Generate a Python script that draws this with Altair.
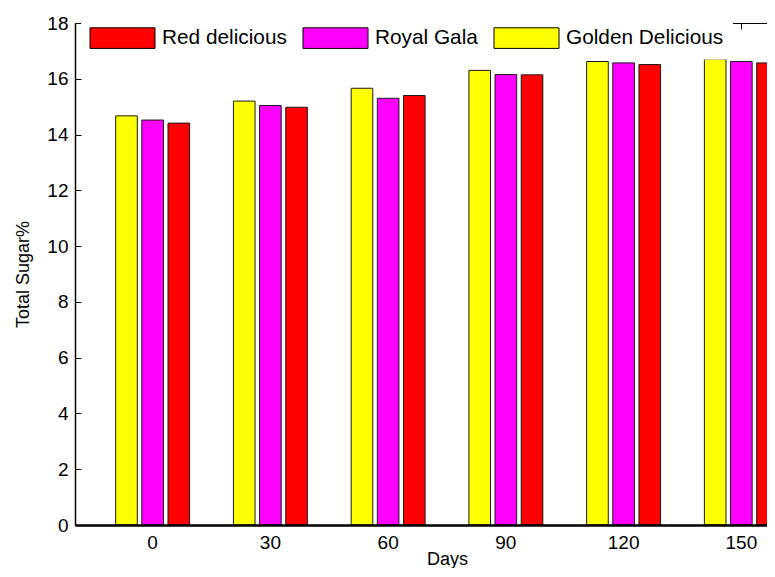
import altair as alt
import pandas as pd

days = ["0", "30", "60", "90", "120", "150"]
varieties = ["Red delicious", "Royal Gala", "Golden Delicious"]
bar_order = ["Golden Delicious", "Royal Gala", "Red delicious"]
golden = [14.67, 15.20, 15.66, 16.30, 16.62, 16.71]
royal = [14.52, 15.04, 15.30, 16.15, 16.57, 16.62]
red = [14.41, 14.98, 15.40, 16.14, 16.51, 16.57]
y_ticks = [0, 2, 4, 6, 8, 10, 12, 14, 16, 18]
colors = ["#FF0000", "#FF00FF", "#FFFF00"]

series = {"Golden Delicious": golden, "Royal Gala": royal, "Red delicious": red}
rows = []
for i, d in enumerate(days):
    for v in bar_order:
        rows.append({"day": d, "variety": v, "value": series[v][i]})
df = pd.DataFrame(rows)

font = "Liberation Sans"
x_scale = alt.Scale(domain=days, range=[0, 744], paddingInner=0.372, paddingOuter=0.3455)
y_scale = alt.Scale(domain=[0, 18], nice=False)

bars = alt.Chart(df).mark_bar(stroke="#1a1a1a", strokeWidth=1).encode(
    x=alt.X("day:N", sort=days, scale=x_scale,
            axis=alt.Axis(title="Days", orient="bottom", labelAngle=0, domainWidth=2.5,
                          domainColor="black", ticks=False, labelFontSize=19, titleFontSize=18,
                          labelPadding=8, titleY=39, titleBaseline="alphabetic",
                          zindex=1, grid=False)),
    xOffset=alt.XOffset("variety:N", sort=bar_order,
                        scale=alt.Scale(paddingInner=0.173, paddingOuter=0)),
    y=alt.Y("value:Q", scale=y_scale,
            axis=alt.Axis(title="Total Sugar%", values=y_ticks, ticks=False, domain=True,
                          domainColor="black", domainWidth=1.5,
                          grid=False, labelPadding=7, labelFontSize=19, titleFontSize=18,
                          titlePadding=14)),
    color=alt.Color("variety:N", scale=alt.Scale(domain=varieties, range=colors),
                    legend=alt.Legend(title=None, orient="none", legendX=6, legendY=-4.5,
                                      direction="horizontal",
                                      symbolType="M-3.25,-1.03L3.25,-1.03L3.25,1.03L-3.25,1.03Z",
                                      symbolSize=400, symbolStrokeColor="black",
                                      symbolStrokeWidth=1, symbolOpacity=1, symbolOffset=22,
                                      labelFontSize=20.8, labelFont=font, labelColor="black",
                                      labelOffset=29, columnPadding=14, padding=9,
                                      fillColor="white", labelLimit=400)),
)

ticks = alt.Chart(df).mark_bar(opacity=0).encode(
    x=alt.X("day:N", sort=days, scale=x_scale,
            axis=alt.Axis(orient="top", title=None, labels=False, domain=False, ticks=True,
                          tickSize=6, offset=-6, tickColor="black", grid=False)),
    y=alt.Y("value:Q", scale=y_scale,
            axis=alt.Axis(orient="left", title=None, labels=False, domain=False, ticks=True,
                          tickSize=6, offset=-6, values=y_ticks, tickColor="black", grid=False)),
)

frame_top = alt.Chart(df).mark_bar(opacity=0).encode(
    x=alt.X("day:N", sort=days, scale=x_scale,
            axis=alt.Axis(orient="top", title=None, labels=False, domain=True, ticks=False,
                          domainColor="black", domainWidth=1.2, grid=False)),
)

chart = alt.layer(bars, ticks, frame_top).resolve_axis(x="independent", y="independent").properties(
    width=692, height=502,
    autosize=alt.AutoSizeParams(type="none"),
    padding={"left": 67, "top": 15, "right": 0, "bottom": 43},
).configure_view(strokeWidth=0).configure_axis(
    labelFont=font, titleFont=font, labelColor="black", titleColor="black",
    titleFontWeight="normal",
)

chart.save("out.html", embed_options={"renderer": "svg", "actions": False})
